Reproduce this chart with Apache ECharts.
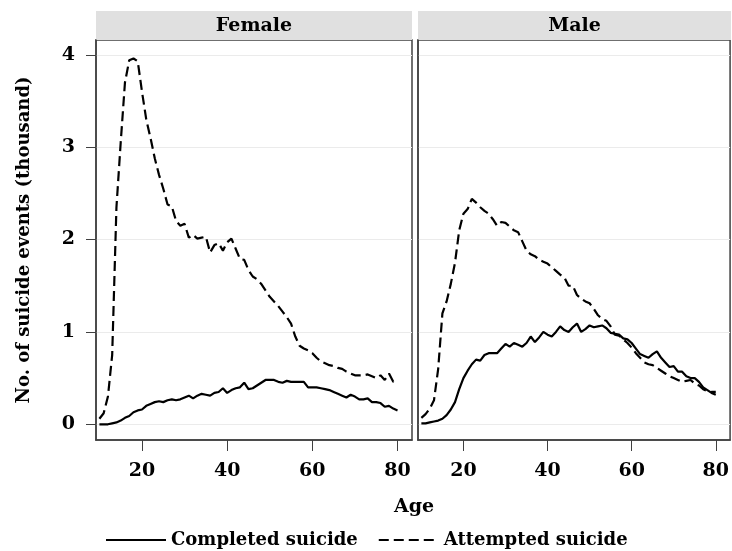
<!DOCTYPE html>
<html>
<head>
<meta charset="utf-8">
<script src="https://cdn.jsdelivr.net/npm/echarts@6/dist/echarts.min.js"></script>
<style>
html,body{margin:0;padding:0;background:#fff;}
#chart{width:732px;height:551px;}
</style>
</head>
<body>
<div id="chart"></div>
<script>
// ---- data (thousands of events by single year of age) ----
const ages = [10,11,12,13,14,15,16,17,18,19,20,21,22,23,24,25,26,27,28,29,30,31,32,33,34,35,36,37,38,39,40,41,42,43,44,45,46,47,48,49,50,51,52,53,54,55,56,57,58,59,60,61,62,63,64,65,66,67,68,69,70,71,72,73,74,75,76,77,78,79,80];

const femaleCompleted = [0.00,0.00,0.00,0.01,0.02,0.04,0.07,0.09,0.13,0.15,0.16,0.20,0.22,0.24,0.25,0.24,0.26,0.27,0.26,0.27,0.29,0.31,0.28,0.31,0.33,0.32,0.31,0.34,0.35,0.39,0.34,0.37,0.39,0.40,0.45,0.38,0.39,0.42,0.45,0.48,0.48,0.48,0.46,0.45,0.47,0.46,0.46,0.46,0.46,0.40,0.40,0.40,0.39,0.38,0.37,0.35,0.33,0.31,0.29,0.32,0.30,0.27,0.27,0.28,0.24,0.24,0.23,0.19,0.20,0.17,0.15];

const femaleAttempted = [0.06,0.12,0.30,0.75,2.35,3.05,3.70,3.94,3.96,3.93,3.60,3.30,3.10,2.88,2.70,2.55,2.38,2.36,2.20,2.15,2.17,2.02,2.05,2.01,2.02,2.03,1.86,1.94,1.96,1.88,1.97,2.01,1.90,1.79,1.78,1.67,1.60,1.57,1.52,1.45,1.38,1.33,1.28,1.22,1.16,1.09,0.95,0.85,0.82,0.80,0.77,0.72,0.68,0.66,0.64,0.63,0.61,0.60,0.57,0.55,0.53,0.53,0.53,0.54,0.52,0.50,0.53,0.48,0.55,0.46,0.47];

const maleCompleted = [0.01,0.01,0.02,0.03,0.04,0.06,0.10,0.16,0.24,0.38,0.50,0.58,0.65,0.70,0.69,0.75,0.77,0.77,0.77,0.82,0.87,0.84,0.88,0.86,0.84,0.88,0.95,0.89,0.94,1.00,0.97,0.95,1.00,1.06,1.02,1.00,1.05,1.09,1.00,1.03,1.07,1.05,1.06,1.07,1.04,0.99,0.98,0.97,0.93,0.92,0.88,0.82,0.76,0.74,0.72,0.76,0.79,0.72,0.67,0.62,0.63,0.57,0.57,0.52,0.50,0.50,0.46,0.40,0.37,0.34,0.32];

const maleAttempted = [0.07,0.11,0.17,0.26,0.60,1.20,1.33,1.52,1.75,2.10,2.28,2.33,2.44,2.40,2.35,2.31,2.28,2.22,2.15,2.19,2.18,2.14,2.10,2.08,1.98,1.88,1.84,1.82,1.78,1.76,1.74,1.70,1.66,1.62,1.59,1.50,1.50,1.40,1.36,1.33,1.31,1.25,1.18,1.14,1.12,1.06,0.97,0.96,0.92,0.88,0.83,0.77,0.72,0.67,0.65,0.64,0.61,0.58,0.55,0.52,0.50,0.48,0.46,0.47,0.48,0.44,0.42,0.38,0.36,0.35,0.35];

const panels = ['Female', 'Male'];
const seriesNames = ['Completed suicide', 'Attempted suicide'];
const xTicks = [20, 40, 60, 80];
const yTicks = [0, 1, 2, 3, 4];

// ---- chart ----
const FONT = '"DejaVu Serif", serif';
const chart = echarts.init(document.getElementById('chart'), null, {renderer: 'canvas'});

const pair = arr => ages.map((a, i) => [a, arr[i]]);

function xAxisFor(idx) {
  return {
    type: 'value', gridIndex: idx, min: 9.2, max: 83.4,
    axisLine: {show: true, onZero: false, lineStyle: {color: '#404040', width: 1.5}},
    axisTick: {show: true, customValues: xTicks, length: 11, lineStyle: {color: '#404040', width: 1}},
    axisLabel: {show: true, customValues: xTicks, margin: 22, fontFamily: FONT, fontWeight: 'bold', fontSize: 19, color: '#000'},
    splitLine: {show: false}
  };
}
function yAxisFor(idx) {
  return {
    type: 'value', gridIndex: idx, min: -0.17, max: 4.16,
    axisLine: {show: true, onZero: false, lineStyle: {color: '#404040', width: 1.5}},
    axisTick: {show: idx === 0, customValues: yTicks, length: 10, lineStyle: {color: '#404040', width: 1}},
    axisLabel: {show: idx === 0, customValues: yTicks, margin: 21, fontFamily: FONT, fontWeight: 'bold', fontSize: 19, color: '#000'},
    splitLine: {show: true, lineStyle: {color: '#ebebeb', width: 1}}
  };
}

const solid = {color: '#000', width: 2.2, type: 'solid'};
const dashed = {color: '#000', width: 2.2, type: [10, 5]};

function lineSeries(name, idx, arr, style) {
  return {
    name: name, type: 'line', xAxisIndex: idx, yAxisIndex: idx,
    data: pair(arr), symbol: 'none', showSymbol: false,
    lineStyle: style, itemStyle: {color: '#000'}, silent: true
  };
}

const option = {
  backgroundColor: '#fff',
  animation: false,
  grid: [
    {left: 96, top: 40, width: 316, height: 400, show: true, borderColor: '#404040', borderWidth: 1.5, backgroundColor: '#fff'},
    {left: 418, top: 40, width: 313, height: 400, show: true, borderColor: '#404040', borderWidth: 1.5, backgroundColor: '#fff'}
  ],
  xAxis: [xAxisFor(0), xAxisFor(1)],
  yAxis: [yAxisFor(0), yAxisFor(1)],
  legend: {
    data: seriesNames,
    left: 100, top: 526,
    itemWidth: 60, itemHeight: 20, itemGap: 20,
    itemStyle: {color: 'rgba(0,0,0,0)', borderWidth: 0, opacity: 0},
    textStyle: {fontFamily: FONT, fontWeight: 'bold', fontSize: 18, color: '#000'},
    selectedMode: false
  },
  graphic: [
    {type: 'rect', shape: {x: 96, y: 11, width: 316, height: 29}, style: {fill: '#e0e0e0'}, silent: true},
    {type: 'rect', shape: {x: 418, y: 11, width: 313, height: 29}, style: {fill: '#e0e0e0'}, silent: true},
    {type: 'text', x: 254, y: 26, style: {text: panels[0], align: 'center', verticalAlign: 'middle', fontFamily: FONT, fontWeight: 'bold', fontSize: 19, fill: '#000'}},
    {type: 'text', x: 574.5, y: 26, style: {text: panels[1], align: 'center', verticalAlign: 'middle', fontFamily: FONT, fontWeight: 'bold', fontSize: 19, fill: '#000'}},
    {type: 'text', x: 414, y: 507, style: {text: 'Age', align: 'center', verticalAlign: 'middle', fontFamily: FONT, fontWeight: 'bold', fontSize: 19, fill: '#000'}},
    {type: 'text', x: 24, y: 240, rotation: Math.PI / 2, style: {text: 'No. of suicide events (thousand)', align: 'center', verticalAlign: 'middle', fontFamily: FONT, fontWeight: 'bold', fontSize: 18, fill: '#000'}}
  ],
  series: [
    lineSeries(seriesNames[0], 0, femaleCompleted, solid),
    lineSeries(seriesNames[1], 0, femaleAttempted, dashed),
    lineSeries(seriesNames[0], 1, maleCompleted, solid),
    lineSeries(seriesNames[1], 1, maleAttempted, dashed)
  ]
};
chart.setOption(option);
</script>
</body>
</html>
